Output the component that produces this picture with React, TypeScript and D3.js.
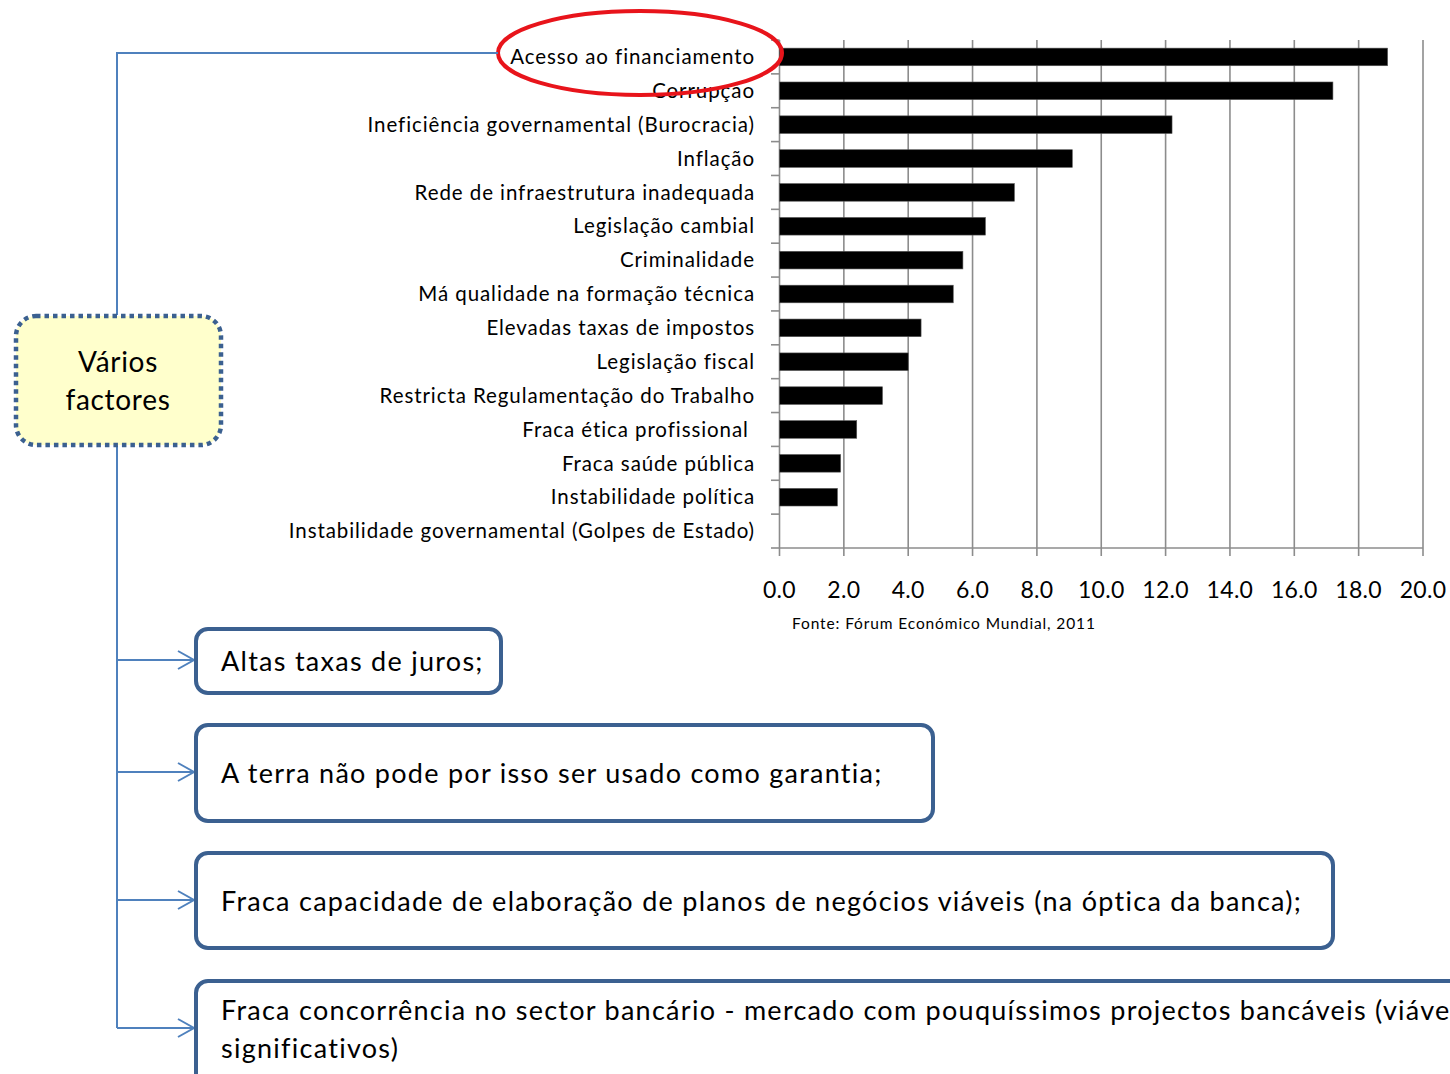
import React from "react";
import * as d3 from "d3";

const categories = [
  "Acesso ao financiamento",
  "Corrupção",
  "Ineficiência governamental (Burocracia)",
  "Inflação",
  "Rede de infraestrutura inadequada",
  "Legislação cambial",
  "Criminalidade",
  "Má qualidade na formação técnica",
  "Elevadas taxas de impostos",
  "Legislação fiscal",
  "Restricta Regulamentação do Trabalho",
  "Fraca ética profissional ",
  "Fraca saúde pública",
  "Instabilidade política",
  "Instabilidade governamental (Golpes de Estado)",
];
const values = [18.9, 17.2, 12.2, 9.1, 7.3, 6.4, 5.7, 5.4, 4.4, 4.0, 3.2, 2.4, 1.9, 1.8, 0];
const xTicks = [0, 2, 4, 6, 8, 10, 12, 14, 16, 18, 20];
const source = "Fonte: Fórum Económico Mundial, 2011";
const boxTexts = [
  ["Altas taxas de juros;"],
  ["A terra não pode por isso ser usado como garantia;"],
  ["Fraca capacidade de elaboração de planos de negócios viáveis (na óptica da banca);"],
  ["Fraca concorrência no sector bancário - mercado com pouquíssimos projectos bancáveis (viáveis e", "significativos)"],
];

const FONT = "Lato, 'Open Sans', sans-serif";
const BLUE_LINE = "#4f81bd";
const BOX_STROKE = "#3b6090";

export default function App() {
  const x = d3.scaleLinear().domain([0, 20]).range([779.5, 1423]);
  const y = d3.scaleBand<string>().domain(categories).range([40, 548]).paddingInner(0.48).paddingOuter(0.24);
  const bandEdges = d3.range(categories.length + 1).map((i) => 40 + i * (508 / categories.length));

  const boxes = [
    { x: 196, y: 629, w: 305, h: 64, ty: [662] },
    { x: 196, y: 725, w: 737, h: 96, ty: [774] },
    { x: 196, y: 853, w: 1137, h: 95, ty: [902] },
    { x: 196, y: 981, w: 1290, h: 110, ty: [1011, 1049] },
  ];
  const arrowYs = [660, 772, 900, 1028];

  return (
    <svg
      width={1450}
      height={1074}
      style={{ position: "absolute", left: 0, top: 0, background: "#fff" }}
      fontFamily={FONT}
    >
      <rect x={0} y={0} width={1450} height={1074} fill="#fff" />
      {/* gridlines */}
      {xTicks.map((t) => (
        <line key={"g" + t} x1={x(t)} x2={x(t)} y1={40} y2={556} stroke="#8c8c8c" strokeWidth={1.6} />
      ))}
      {/* bottom axis */}
      <line x1={x(0)} x2={x(20)} y1={548} y2={548} stroke="#8c8c8c" strokeWidth={1.6} />
      {/* y ticks */}
      {bandEdges.map((e, i) => (
        <line key={"yt" + i} x1={771} x2={x(0)} y1={e} y2={e} stroke="#8c8c8c" strokeWidth={1.6} />
      ))}
      {/* bars */}
      {categories.map((c, i) =>
        values[i] > 0 ? (
          <rect
            key={"b" + i}
            x={x(0)}
            y={y(c) as number}
            width={x(values[i]) - x(0)}
            height={y.bandwidth()}
            fill="#000"
            stroke="#555"
            strokeWidth={0.6}
          />
        ) : null
      )}
      {/* category labels */}
      {categories.map((c, i) => (
        <text
          key={"l" + i}
          x={755}
          y={(y(c) as number) + y.bandwidth() / 2}
          dy="0.35em"
          textAnchor="end"
          fontSize={20.5}
          letterSpacing={0.92}
          fill="#000"
          style={{ whiteSpace: "pre" }}
        >
          {c}
        </text>
      ))}
      {/* x tick labels */}
      {xTicks.map((t) => (
        <text key={"xl" + t} x={x(t)} y={590} dy="0.35em" textAnchor="middle" fontSize={23} letterSpacing={0.3} fill="#000">
          {t.toFixed(1)}
        </text>
      ))}
      <text x={792} y={624} dy="0.35em" fontSize={15.5} letterSpacing={0.88} fill="#000">
        {source}
      </text>

      {/* red ellipse */}
      <ellipse cx={640} cy={53} rx={142} ry={42} fill="none" stroke="#e8141b" strokeWidth={4} />

      {/* connector lines */}
      <polyline points="498,53 117,53 117,315" fill="none" stroke={BLUE_LINE} strokeWidth={2} />
      <line x1={117} x2={117} y1={446} y2={1028} stroke={BLUE_LINE} strokeWidth={2} />
      {arrowYs.map((ay, i) => (
        <g key={"a" + i}>
          <line x1={117} x2={194} y1={ay} y2={ay} stroke={BLUE_LINE} strokeWidth={2} />
          <polyline
            points={`${178},${ay - 9} ${194},${ay} ${178},${ay + 9}`}
            fill="none"
            stroke={BLUE_LINE}
            strokeWidth={2}
          />
        </g>
      ))}

      {/* Vários factores box */}
      <rect
        x={16}
        y={316}
        width={205}
        height={129}
        rx={20}
        fill="#ffffcc"
        stroke={BOX_STROKE}
        strokeWidth={4.5}
        strokeDasharray="4.5 4"
      />
      <text x={118} y={362} dy="0.35em" textAnchor="middle" fontSize={28} letterSpacing={0.7} fill="#000">
        Vários
      </text>
      <text x={118} y={400} dy="0.35em" textAnchor="middle" fontSize={28} letterSpacing={0.7} fill="#000">
        factores
      </text>

      {/* text boxes */}
      {boxes.map((b, i) => (
        <g key={"bx" + i}>
          <rect x={b.x} y={b.y} width={b.w} height={b.h} rx={12} fill="#fff" stroke={BOX_STROKE} strokeWidth={4} />
          {boxTexts[i].map((t, j) => (
            <text key={j} x={221} y={b.ty[j]} dy="0.35em" fontSize={27} letterSpacing={1.27} fill="#000">
              {t}
            </text>
          ))}
        </g>
      ))}
    </svg>
  );
}
